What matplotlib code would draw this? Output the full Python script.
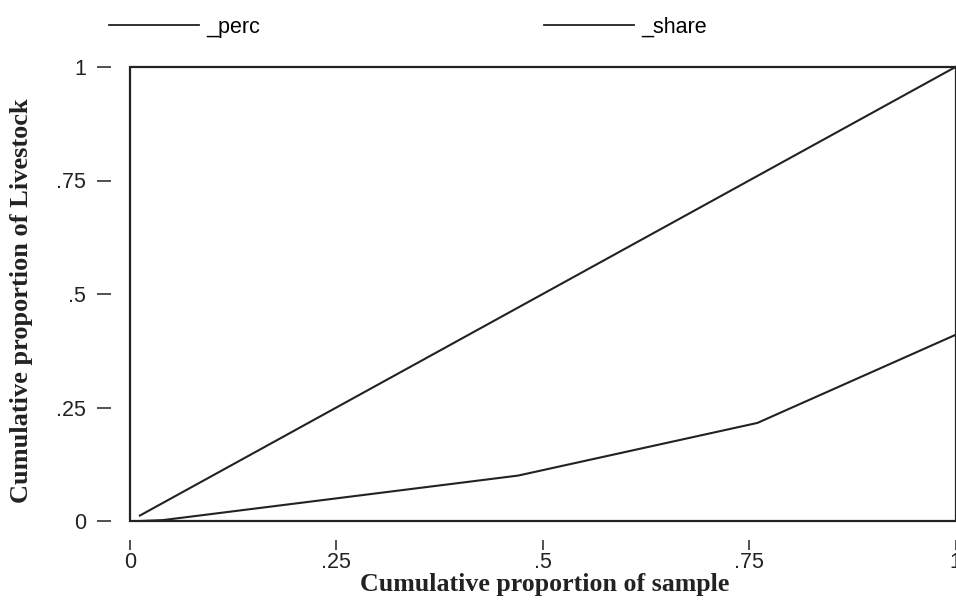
import numpy as np
import matplotlib
matplotlib.use('Agg')
import matplotlib.pyplot as plt

# cumulative proportions
perc_x = [0.012, 0.04, 0.47, 0.76, 1.0]
perc_y = [0.012, 0.04, 0.47, 0.76, 1.0]

share_x = [0.012, 0.04, 0.47, 0.76, 1.0]
share_y = [0.0, 0.002, 0.100, 0.216, 0.41]

series_names = ["_perc", "_share"]

xticks = [0, 0.25, 0.5, 0.75, 1]
xtick_labels = ["0", ".25", ".5", ".75", "1"]
yticks = [0, 0.25, 0.5, 0.75, 1]
ytick_labels = ["0", ".25", ".5", ".75", "1"]

W, H = 956, 609
fig = plt.figure(figsize=(W / 100, H / 100), dpi=100)
ax = fig.add_axes([130 / W, (H - 521) / H, (955.5 - 130) / W, (521 - 67) / H])

line_col = "#222222"
l1, = ax.plot(perc_x, perc_y, color=line_col, lw=1.5, clip_on=False)
l2, = ax.plot(share_x, share_y, color=line_col, lw=1.5, clip_on=False)

ax.set_xlim(0, 1)
ax.set_ylim(0, 1)

# frame drawn by the axes patch, ticks sit off the frame with a gap
ax.patch.set_edgecolor("#222222")
ax.patch.set_linewidth(1.6)
for side in ["bottom", "left"]:
    ax.spines[side].set_position(("outward", 13.5))
for s in ax.spines.values():
    s.set_visible(False)

ax.set_xticks(xticks)
ax.set_xticklabels(xtick_labels)
ax.set_yticks(yticks)
ax.set_yticklabels(ytick_labels)
ax.tick_params(axis="x", direction="out", length=7.5, width=1.1, pad=1,
               labelsize=15.5, colors="#222222")
ax.tick_params(axis="y", direction="out", length=10, width=1.1, pad=8,
               labelsize=15.5, colors="#222222")
for lab in ax.get_xticklabels() + ax.get_yticklabels():
    lab.set_family("Liberation Sans")

fig.text(545 / W, 1 - 585 / H, "Cumulative proportion of sample",
         ha="center", va="center", family="Liberation Serif", weight="bold",
         fontsize=18.6, color="#222222")
fig.text(22 / W, 1 - 301 / H, "Cumulative proportion of Livestock",
         ha="center", va="center", rotation=90, family="Liberation Serif",
         weight="bold", fontsize=19, color="#222222")

# underscore labels are skipped by auto-collection, so pass them explicitly
leg = fig.legend([l1, l2], series_names, loc="upper left",
                 bbox_to_anchor=(109 / W, 1 - 17 / H),
                 ncol=2, frameon=False, borderpad=0, borderaxespad=0,
                 handlelength=4.2, handletextpad=0.3, columnspacing=13.2,
                 prop={"family": "Liberation Sans", "size": 15.5})
for h in leg.legend_handles:
    h.set_linewidth(1.3)

fig.savefig("out.png", dpi=100)
